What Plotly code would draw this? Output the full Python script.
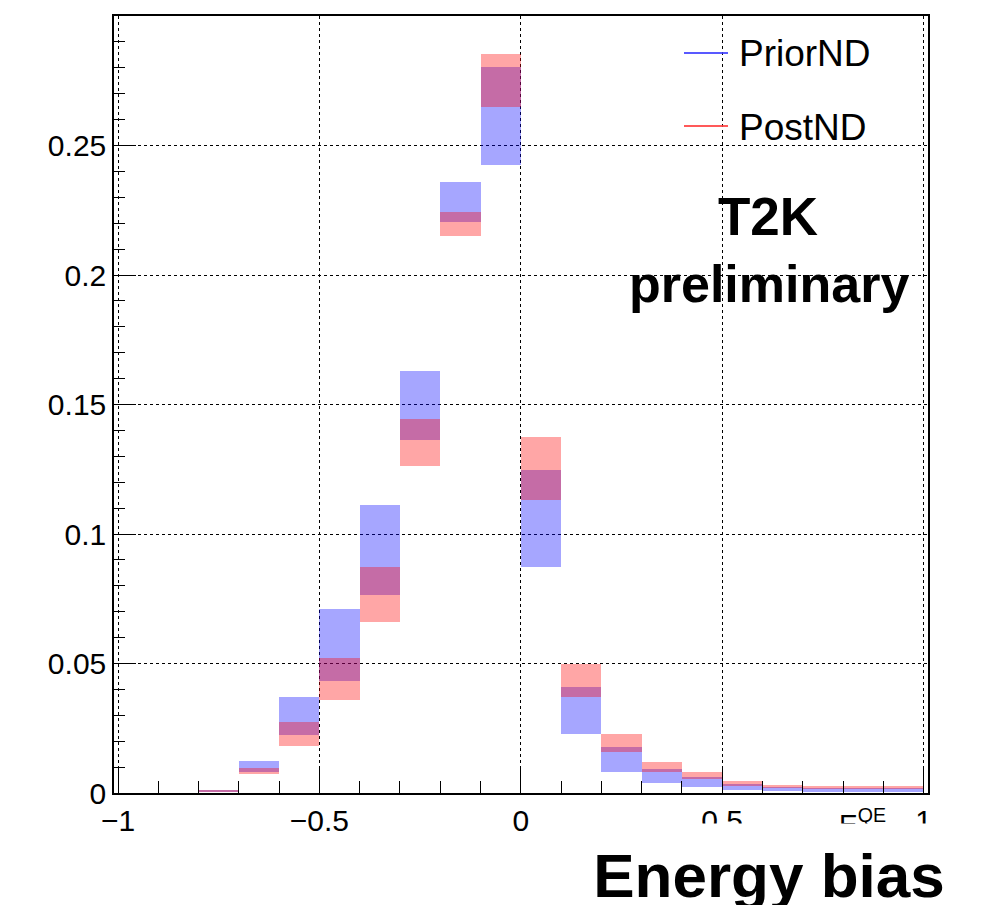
import plotly.graph_objects as go

# ---- data ----
bin_centers = [-0.75, -0.65, -0.55, -0.45, -0.35, -0.25, -0.15, -0.05,
               0.05, 0.15, 0.25, 0.35, 0.45, 0.55, 0.65, 0.75, 0.85, 0.95]
bin_width = 0.1

prior_lo = [0.0002, 0.0081, 0.0224, 0.0433, 0.0766, 0.1362, 0.2204, 0.2425,
            0.0874, 0.0228, 0.0082, 0.0040, 0.0024, 0.0013, 0.0006, 0.0004, 0.0004, 0.0004]
prior_hi = [0.0013, 0.0122, 0.0369, 0.0710, 0.1112, 0.1630, 0.2361, 0.2805,
            0.1246, 0.0410, 0.0179, 0.0091, 0.0062, 0.0035, 0.0024, 0.0020, 0.0020, 0.0020]
post_lo = [0.0002, 0.0072, 0.0182, 0.0359, 0.0662, 0.1264, 0.2151, 0.2647,
           0.1130, 0.0372, 0.0159, 0.0081, 0.0055, 0.0028, 0.0019, 0.0016, 0.0016, 0.0016]
post_hi = [0.0012, 0.0097, 0.0275, 0.0523, 0.0874, 0.1444, 0.2243, 0.2855,
           0.1375, 0.0500, 0.0228, 0.0121, 0.0083, 0.0045, 0.0031, 0.0026, 0.0026, 0.0027]

series_names = ["PriorND", "PostND"]
x_ticks = [-1, -0.5, 0, 0.5, 1]
y_ticks = [0, 0.05, 0.1, 0.15, 0.2, 0.25]

FONT = "Liberation Sans, Arial, Helvetica, sans-serif"
W, H = 1005, 905
L, R, T, B = 114, 77, 16, 112
PW, PH = W - L - R, H - T - B


def px(xp):
    return (xp - L) / PW


def py(yp):
    return (H - B - yp) / PH


fig = go.Figure()
fig.add_trace(go.Bar(
    x=bin_centers, base=prior_lo, y=[h - l for h, l in zip(prior_hi, prior_lo)],
    width=bin_width, name=series_names[0],
    marker=dict(color="rgba(0,0,255,0.35)", line=dict(width=0)),
    showlegend=False, hoverinfo="skip"))
fig.add_trace(go.Bar(
    x=bin_centers, base=post_lo, y=[h - l for h, l in zip(post_hi, post_lo)],
    width=bin_width, name=series_names[1],
    marker=dict(color="rgba(255,0,0,0.35)", line=dict(width=0)),
    showlegend=False, hoverinfo="skip"))

fig.update_layout(
    width=W, height=H,
    margin=dict(l=L, r=R, t=T, b=B, autoexpand=False),
    paper_bgcolor="white", plot_bgcolor="white",
    barmode="overlay", bargap=0,
    font=dict(family=FONT, color="black", size=30),
)

fig.update_xaxes(
    range=[-1.01, 1.011], tickvals=x_ticks,
    tickmode="array",
    ticks="inside", ticklen=25, tickwidth=1, tickcolor="black",
    minor=dict(dtick=0.1, tick0=-1, ticks="inside", ticklen=12, tickwidth=1,
               tickcolor="black", showgrid=False),
    showgrid=True, gridcolor="black", gridwidth=1, griddash="dot",
    showline=True, linecolor="black", linewidth=1.5, mirror=True,
    zeroline=False, tickfont=dict(size=30, family=FONT),
)
fig.update_yaxes(
    range=[0, 0.3], tickvals=y_ticks, tickmode="array",
    ticks="inside", ticklen=22, tickwidth=1, tickcolor="black",
    minor=dict(dtick=0.01, tick0=0, ticks="inside", ticklen=11, tickwidth=1,
               tickcolor="black", showgrid=False),
    showgrid=True, gridcolor="black", gridwidth=1, griddash="dot",
    showline=True, linecolor="black", linewidth=1.5, mirror=True,
    zeroline=False, tickfont=dict(size=30, family=FONT),
)

# legend (drawn manually to match ROOT layout)
leg_cols = ["rgba(60,60,255,0.85)", "rgba(255,60,60,0.85)"]
leg_y = [53, 126]
shapes = []
annotations = []
for name, col, ly in zip(series_names, leg_cols, leg_y):
    shapes.append(dict(type="line", xref="paper", yref="paper",
                       x0=px(684), x1=px(728), y0=py(ly), y1=py(ly),
                       line=dict(color=col, width=2)))
    annotations.append(dict(text=name, xref="paper", yref="paper",
                            x=px(737), y=py(ly + 1), xanchor="left", yanchor="middle",
                            showarrow=False, font=dict(size=37, family=FONT, color="black")))

annotations.append(dict(text="<b>T2K</b>", xref="paper", yref="paper",
                        x=px(768), y=py(216), xanchor="center", yanchor="middle",
                        showarrow=False, font=dict(size=53, family=FONT, color="black")))
annotations.append(dict(text="<b>preliminary</b>", xref="paper", yref="paper",
                        x=px(769), y=py(284), xanchor="center", yanchor="middle",
                        showarrow=False, font=dict(size=52, family=FONT, color="black")))
# partially hidden x-axis title
annotations.append(dict(text="E<sup>QE</sup>", xref="paper", yref="paper",
                        x=px(837), y=py(822), xanchor="left", yanchor="middle",
                        showarrow=False, font=dict(size=28, family=FONT, color="black")))
# big label on a white panel that hides part of the axis labels
annotations.append(dict(text="<b>Energy bias</b>", xref="paper", yref="paper",
                        x=px(580), y=py(823), xanchor="left", yanchor="top",
                        width=376, height=102, bgcolor="white", borderpad=0,
                        align="center", valign="middle",
                        showarrow=False, font=dict(size=62, family=FONT, color="black")))

fig.update_layout(shapes=shapes, annotations=annotations)

fig.write_html("out.html")
